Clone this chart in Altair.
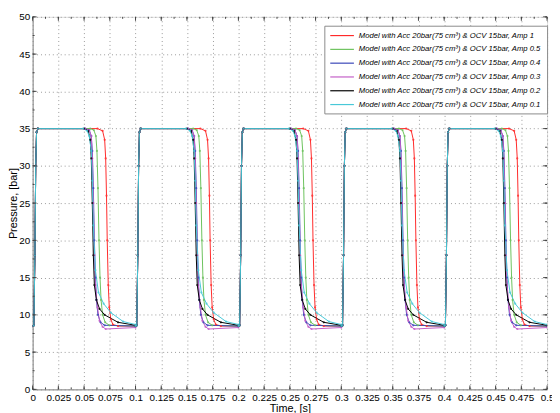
import altair as alt
import pandas as pd

series_names = [
    "Model with Acc 20bar(75 cm³) & OCV 15bar, Amp 1",
    "Model with Acc 20bar(75 cm³) & OCV 15bar, Amp 0.5",
    "Model with Acc 20bar(75 cm³) & OCV 15bar, Amp 0.4",
    "Model with Acc 20bar(75 cm³) & OCV 15bar, Amp 0.3",
    "Model with Acc 20bar(75 cm³) & OCV 15bar, Amp 0.2",
    "Model with Acc 20bar(75 cm³) & OCV 15bar, Amp 0.1",
]
series_colors = ["#ff2a2a", "#6cc25c", "#3a46b8", "#c35ec8", "#000000", "#48c8d8"]

cycle_starts = [0.0, 0.1, 0.2, 0.3, 0.4]

# common rise at the start of each cycle (time within cycle, pressure)
rise_t = [0.0, 0.0012, 0.0022, 0.0030, 0.0038, 0.0050]
rise_p = [8.5, 8.6, 18.0, 30.0, 34.5, 35.0]

# fall profiles (time within cycle, pressure)
fall_t = [
    [0.063, 0.068, 0.070, 0.071, 0.0718, 0.0725, 0.0735, 0.0745, 0.0760, 0.0780, 0.0830, 0.1000],
    [0.056, 0.0595, 0.0615, 0.0625, 0.0635, 0.0645, 0.0655, 0.0665, 0.0680, 0.0705, 0.0745, 0.1000],
    [0.051, 0.055, 0.057, 0.058, 0.0590, 0.0600, 0.0610, 0.0620, 0.0635, 0.0660, 0.0700, 0.1000],
    [0.051, 0.055, 0.057, 0.058, 0.0590, 0.0600, 0.0610, 0.0630, 0.0650, 0.0680, 0.0710, 0.1000],
    [0.050, 0.054, 0.056, 0.057, 0.0580, 0.0590, 0.0600, 0.0620, 0.0650, 0.0700, 0.0830, 0.1000],
    [0.049, 0.053, 0.055, 0.057, 0.0580, 0.0590, 0.0610, 0.0640, 0.0690, 0.0760, 0.0880, 0.1000],
]
fall_p = [
    [35.0, 34.7, 33.5, 31.0, 26.0, 20.0, 14.0, 11.0, 9.4, 8.7, 8.5, 8.5],
    [35.0, 34.8, 34.0, 32.0, 27.0, 20.0, 15.0, 12.0, 10.0, 9.0, 8.6, 8.5],
    [35.0, 34.8, 34.0, 32.0, 27.0, 20.0, 15.0, 12.0, 10.0, 9.0, 8.6, 8.5],
    [35.0, 34.8, 34.0, 31.0, 25.0, 18.0, 14.0, 11.0, 9.2, 8.4, 8.1, 8.3],
    [35.0, 34.7, 33.5, 31.0, 25.0, 18.0, 14.0, 12.0, 10.8, 10.0, 9.0, 8.6],
    [35.0, 34.7, 34.0, 32.0, 28.0, 22.0, 16.0, 13.0, 11.5, 10.3, 9.1, 8.7],
]

x_ticks = [i * 0.025 for i in range(21)]
x_minor = [i * 0.0125 for i in range(41)]
y_ticks = [i * 5 for i in range(11)]
y_minor = [i * 2.5 for i in range(21)]

rows = []
for s, name in enumerate(series_names):
    for c in cycle_starts:
        for t, p in zip(rise_t + fall_t[s], rise_p + fall_p[s]):
            rows.append({"series": name, "order": s, "t": round(c + t, 5), "p": p})
df = pd.DataFrame(rows)

W, H = 522, 378

xscale = alt.Scale(domain=[0, 0.5], nice=False, zero=False)
yscale = alt.Scale(domain=[0, 50], nice=False)
cscale = alt.Scale(domain=series_names, range=series_colors)

xaxis = alt.Axis(title="Time, [s]", values=x_ticks, ticks=False,
                 labelExpr="datum.value == 0 ? '0' : format(datum.value, '.3~f')",
                 labelOverlap=False, labelFlush=False, titleFontWeight="normal",
                 grid=True, gridDash=[1, 3], gridColor="#9a9a9a",
                 labelPadding=3, titlePadding=0)
yaxis = alt.Axis(title="Pressure, [bar]", values=y_ticks, ticks=False,
                 labelOverlap=False, labelFlush=False, titleFontWeight="normal",
                 grid=True, gridDash=[1, 3], gridColor="#9a9a9a",
                 labelPadding=3, titlePadding=0)

lines = alt.Chart(df).mark_line(strokeWidth=1, clip=True).encode(
    x=alt.X("t:Q", scale=xscale, axis=xaxis, title="Time, [s]"),
    y=alt.Y("p:Q", scale=yscale, axis=yaxis, title="Pressure, [bar]"),
    color=alt.Color("series:N", sort=series_names, scale=cscale,
                    legend=alt.Legend(title=None, orient="none", legendX=296, legendY=9,
                                      symbolType="M-1,0L5,0", symbolStrokeWidth=1.2,
                                      symbolSize=64, labelFontStyle="italic",
                                      labelFontSize=7.8, labelLimit=400, labelOffset=20,
                                      fillColor="white", strokeColor="#8a8a8a",
                                      padding=5, rowPadding=5)),
    detail="series:N",
    order=alt.Order("order:Q"),
)

pts = alt.Chart(df).mark_point(size=5, filled=True, opacity=0.8, clip=True).encode(
    x=alt.X("t:Q", scale=xscale, axis=xaxis, title="Time, [s]"),
    y=alt.Y("p:Q", scale=yscale, axis=yaxis, title="Pressure, [bar]"),
    color=alt.Color("series:N", sort=series_names, scale=cscale, legend=None),
)

xt = pd.DataFrame({"v": x_ticks})
xm = pd.DataFrame({"v": x_minor})
yt = pd.DataFrame({"v": y_ticks})
ym = pd.DataFrame({"v": y_minor})
tc = "#444444"

def xtick(df_, ln, top):
    if top:
        yy, yy2 = 0, ln
    else:
        yy, yy2 = H, H - ln
    return alt.Chart(df_).mark_rule(color=tc, strokeWidth=1).encode(
        x=alt.X("v:Q", scale=xscale, axis=xaxis, title="Time, [s]"),
        y=alt.value(yy), y2=alt.value(yy2))

def ytick(df_, ln, right):
    if right:
        xx, xx2 = W, W - ln
    else:
        xx, xx2 = 0, ln
    return alt.Chart(df_).mark_rule(color=tc, strokeWidth=1).encode(
        y=alt.Y("v:Q", scale=yscale, axis=yaxis, title="Pressure, [bar]"),
        x=alt.value(xx), x2=alt.value(xx2))

ticks = [xtick(xt, 4, False), xtick(xm, 2, False), xtick(xt, 4, True), xtick(xm, 2, True),
         ytick(yt, 4, False), ytick(ym, 2, False), ytick(yt, 4, True), ytick(ym, 2, True)]

chart = alt.layer(lines, pts, *ticks).properties(
    width=W, height=H,
    autosize=alt.AutoSizeParams(type="none"),
    padding={"left": 25, "top": 6, "right": 5, "bottom": 21},
).configure_view(stroke="#3a3a3a", strokeWidth=1).configure_axis(
    labelFont="Liberation Sans", titleFont="Liberation Sans",
    labelFontSize=8, titleFontSize=8, labelColor="#222222", titleColor="#222222",
    titleFontWeight="normal", domain=False,
).configure_legend(labelFont="Liberation Sans", labelColor="#111111").configure(
    background="white")

chart.save("out.html", embed_options={"renderer": "svg", "actions": False})
